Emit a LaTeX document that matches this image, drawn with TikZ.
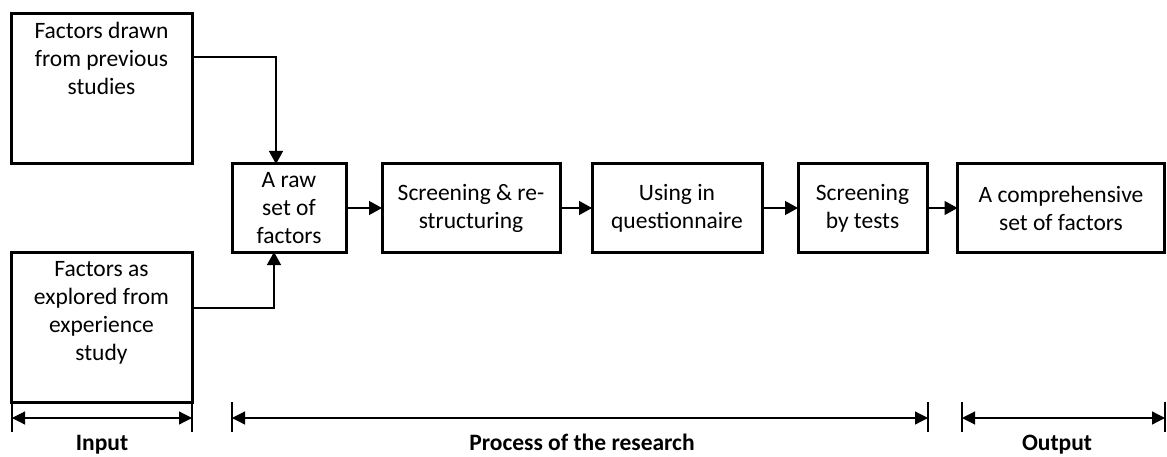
\documentclass[tikz,border=0pt]{standalone}
\usepackage{fontspec}
\setmainfont{Carlito}
\usetikzlibrary{arrows.meta}
\begin{document}
\begin{tikzpicture}[x=1pt,y=-1pt,
  boxfont/.style={font=\fontsize{23.5}{28}\selectfont},
  box/.style={draw,line width=3pt,inner sep=0pt,outer sep=0pt,align=center,boxfont},
  toptext/.style={boxfont,align=center,anchor=north,inner sep=0pt},
  conn/.style={line width=1.4pt,-{Triangle[length=13pt,width=14pt]}},
  dim/.style={line width=1.2pt,{Triangle[length=13pt,width=13pt]}-{Triangle[length=13pt,width=13pt]}},
  tickline/.style={line width=1.2pt},
  steplabel/.style={font=\fontsize{23.5}{28}\selectfont\bfseries,inner sep=0pt,anchor=base}]
\useasboundingbox (0,0) rectangle (1167,457);

% input boxes (text set at the top)
\node[box,minimum width=181pt,minimum height=150pt] (prev) at (101.5,89) {};
\node[toptext] (prevtxt) at (101.5,22) {Factors drawn\\from previous\\studies};
\node[box,minimum width=181pt,minimum height=150pt] (expl) at (101.5,327) {};
\node[toptext] (expltxt) at (101.5,261) {Factors as\\explored from\\experience\\study};

% process chain
\node[box,minimum width=114pt,minimum height=88pt] (raw) at (289,208) {A raw\\set of\\factors};
\node[box,minimum width=178pt,minimum height=88pt] (scr) at (471,208) {Screening \& re-\\structuring};
\node[box,minimum width=170pt,minimum height=88pt] (use) at (677,208) {Using in\\questionnaire};
\node[box,minimum width=129pt,minimum height=88pt] (tst) at (862.5,208) {Screening\\by tests};
\node[box,minimum width=207pt,minimum height=88pt] (out) at (1061,208) {A comprehensive\\set of factors};

% connectors
\draw[conn] (prev.east |- 0,57) -| (raw.north -| 276,0);
\draw[conn] (expl.east |- 0,308) -| (raw.south -| 274,0);
\draw[conn] (raw) -- (scr);
\draw[conn] (scr) -- (use);
\draw[conn] (use) -- (tst);
\draw[conn] (tst) -- (out);

% extent markers
\coordinate (i1) at (12,418);  \coordinate (i2) at (192,418);
\coordinate (p1) at (232,418); \coordinate (p2) at (928,418);
\coordinate (o1) at (962,418); \coordinate (o2) at (1165,418);
\foreach \c in {i1,i2,p1,p2,o1,o2}
  \draw[tickline] ([yshift=16pt]\c) -- ([yshift=-14pt]\c);
\draw[dim] (i1) -- (i2);
\draw[dim] (p1) -- (p2);
\draw[dim] (o1) -- (o2);

\node[steplabel] (lin) at (102,450) {Input};
\node[steplabel] (lproc) at (582,450) {Process of the research};
\node[steplabel] (lout) at (1057,450) {Output};
\end{tikzpicture}
\end{document}
